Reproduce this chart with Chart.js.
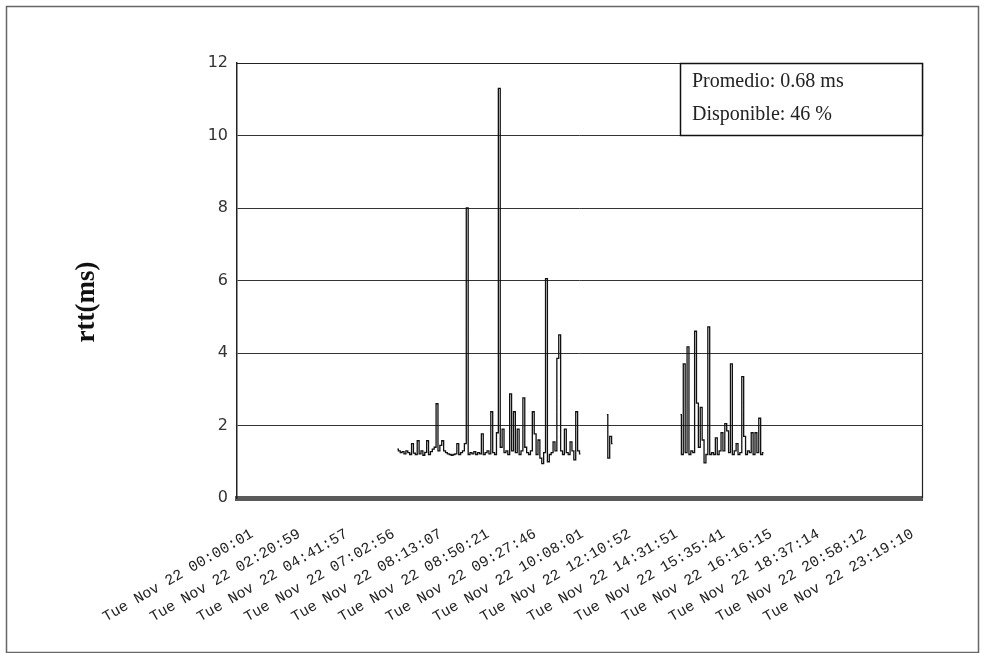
<!DOCTYPE html>
<html>
<head>
<meta charset="utf-8">
<script src="https://cdn.jsdelivr.net/npm/chart.js@4.4.0/dist/chart.umd.min.js"></script>
<style>
  html, body { margin: 0; padding: 0; background: #fff; }
</style>
</head>
<body>
<canvas id="rttChart" width="984" height="653"></canvas>
<script>
// etiquetas del eje x (una cada 25 muestras)
const tickLabels = [
  'Tue Nov 22 00:00:01', 'Tue Nov 22 02:20:59', 'Tue Nov 22 04:41:57',
  'Tue Nov 22 07:02:56', 'Tue Nov 22 08:13:07', 'Tue Nov 22 08:50:21',
  'Tue Nov 22 09:27:46', 'Tue Nov 22 10:08:01', 'Tue Nov 22 12:10:52',
  'Tue Nov 22 14:31:51', 'Tue Nov 22 15:35:41', 'Tue Nov 22 16:16:15',
  'Tue Nov 22 18:37:14', 'Tue Nov 22 20:58:12', 'Tue Nov 22 23:19:10'
];
const tickSamples = [0, 25, 50, 75, 100, 125, 150, 175, 200, 225, 250, 275, 300, 325, 350];
const yTicks = [0, 2, 4, 6, 8, 10, 12];

// tramos con respuesta (muestra inicial + rtt en ms)
const seg1Start = 77;
const seg1 = [
  1.35, 1.3, 1.25, 1.28, 1.22, 1.3, 1.25, 1.2, 1.5, 1.24,
  1.2, 1.58, 1.22, 1.3, 1.18, 1.26, 1.58, 1.2, 1.28, 1.35,
  1.4, 2.6, 1.3, 1.45, 1.58, 1.3, 1.25, 1.22, 1.2, 1.18,
  1.2, 1.22, 1.5, 1.2, 1.25, 1.3, 1.5, 8.0, 1.2, 1.25,
  1.22, 1.28, 1.2, 1.25, 1.22, 1.77, 1.2, 1.25, 1.3, 1.22,
  2.38, 1.25, 1.2, 1.8, 11.3, 1.4, 1.9, 1.25, 1.3, 1.2,
  2.87, 1.3, 2.38, 1.25, 1.9, 1.2, 1.3, 2.76, 1.4, 1.25,
  1.2, 1.3, 2.38, 1.77, 1.2, 1.6, 1.1, 0.95, 1.25, 6.05,
  1.0, 1.2, 1.25, 1.55, 1.3, 3.85, 4.5, 1.3, 1.2, 1.9,
  1.25, 1.2, 1.55, 1.3, 1.05, 2.38, 1.3, 1.22
];
const seg2Start = 188;
const seg2 = [2.3, 1.1, 1.7, 1.5];
const seg3Start = 227;
const seg3 = [
  2.3, 1.2, 3.7, 1.25, 4.17, 1.2, 1.3, 1.25, 4.6, 2.62,
  1.4, 2.5, 1.6, 0.97, 1.2, 4.72, 1.2, 1.25, 1.2, 1.66,
  1.2, 1.3, 1.8, 1.3, 2.05, 1.85, 1.25, 3.7, 1.2, 1.3,
  1.5, 1.2, 1.25, 3.35, 1.7, 1.2, 1.3, 1.25, 1.8, 1.2,
  1.8, 1.25, 2.2, 1.2, 1.25
];

const legendLines = ['Promedio: 0.68 ms', 'Disponible: 46 %'];

function toPoints(start, values) {
  return values.map((v, i) => ({ x: start + i, y: v }));
}

function lineSet(start, values) {
  return {
    data: toPoints(start, values),
    borderColor: '#111',
    borderWidth: 1.3,
    pointRadius: 0,
    stepped: 'middle',
    fill: false
  };
}

// marco exterior, borde del area, recuadro de promedio y titulo del eje y
const decor = {
  id: 'decor',
  beforeDraw(chart) {
    const ctx = chart.ctx;
    ctx.save();
    ctx.fillStyle = '#fff';
    ctx.fillRect(0, 0, chart.width, chart.height);
    ctx.strokeStyle = '#666';
    ctx.lineWidth = 1.5;
    ctx.strokeRect(6.5, 6.5, 972, 646);
    ctx.restore();
  },
  afterDraw(chart) {
    const ctx = chart.ctx;
    const a = chart.chartArea;
    ctx.save();
    ctx.strokeStyle = '#222';
    ctx.lineWidth = 1.2;
    ctx.beginPath();
    ctx.moveTo(a.left, a.top + 0.5);
    ctx.lineTo(a.right + 0.5, a.top + 0.5);
    ctx.lineTo(a.right + 0.5, a.bottom);
    ctx.stroke();

    // recuadro
    const bx = 680, by = a.top, bw = a.right - 680, bh = 72;
    ctx.fillStyle = '#fff';
    ctx.fillRect(bx, by, bw, bh);
    ctx.strokeStyle = '#111';
    ctx.lineWidth = 1.5;
    ctx.strokeRect(bx + 0.5, by + 0.5, bw, bh);
    ctx.fillStyle = '#222';
    ctx.font = '20px "Liberation Serif"';
    ctx.textBaseline = 'alphabetic';
    ctx.fillText(legendLines[0], 692, 87);
    ctx.fillText(legendLines[1], 692, 120);

    // titulo eje y
    ctx.translate(87, 302);
    ctx.rotate(-Math.PI / 2);
    ctx.font = 'bold 27px "Liberation Serif"';
    ctx.textAlign = 'center';
    ctx.textBaseline = 'middle';
    ctx.fillStyle = '#111';
    ctx.fillText('rtt(ms)', 0, 0);
    ctx.restore();
  }
};

new Chart(document.getElementById('rttChart'), {
  type: 'line',
  data: {
    datasets: [
      lineSet(seg1Start, seg1),
      lineSet(seg2Start, seg2),
      lineSet(seg3Start, seg3)
    ]
  },
  options: {
    responsive: false,
    animation: false,
    layout: { padding: { top: 63, right: 62, bottom: 0, left: 0 } },
    plugins: {
      legend: { display: false },
      title: { display: false },
      tooltip: { enabled: false }
    },
    scales: {
      x: {
        type: 'linear',
        min: -8,
        max: 355,
        afterBuildTicks: (axis) => { axis.ticks = tickSamples.map(v => ({ value: v })); },
        afterFit: (scale) => { scale.height = 155; },
        grid: { display: false },
        border: { display: true, width: 5, color: '#5a5a5a' },
        ticks: {
          autoSkip: false,
          minRotation: 30,
          maxRotation: 30,
          padding: 19,
          color: '#222',
          font: { family: 'Liberation Mono', size: 15 },
          callback: (value, index) => tickLabels[index]
        }
      },
      y: {
        min: 0,
        max: 12,
        afterBuildTicks: (axis) => { axis.ticks = yTicks.map(v => ({ value: v })); },
        afterFit: (scale) => { scale.width = 237; },
        grid: { color: '#333', lineWidth: 1, drawTicks: false },
        border: { display: true, color: '#222', width: 1.5 },
        ticks: {
          padding: 9,
          color: '#333',
          font: { family: 'DejaVu Sans', size: 16 }
        }
      }
    }
  },
  plugins: [decor]
});
</script>
</body>
</html>
